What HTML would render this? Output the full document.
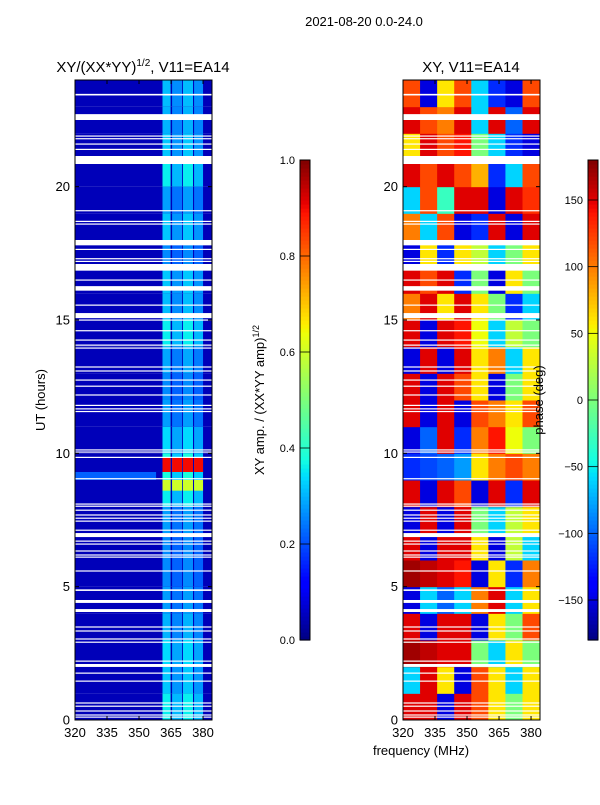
<!DOCTYPE html>
<html><head><meta charset="utf-8"><style>
body{margin:0;background:#fff;font-family:"Liberation Sans",sans-serif;}
svg text{font-family:"Liberation Sans","DejaVu Sans",sans-serif;fill:#000;}
</style></head><body>
<svg id="fig" width="600" height="800" xmlns="http://www.w3.org/2000/svg">
<rect width="600" height="800" fill="#fff"/>
<text x="364" y="26" font-size="13" text-anchor="middle">2021-08-20 0.0-24.0</text>
<text x="143" y="72" font-size="15" text-anchor="middle">XY/(XX*YY)<tspan font-size="10" dy="-6">1/2</tspan><tspan dy="6">, V11=EA14</tspan></text>
<text x="471" y="72" font-size="15" text-anchor="middle">XY, V11=EA14</text>
<g id="amp"></g>
<g id="pha"></g>
<g id="axes"></g>
<text x="45" y="400" font-size="13" text-anchor="middle" transform="rotate(-90 45 400)">UT (hours)</text>
<text x="421" y="755" font-size="13" text-anchor="middle">frequency (MHz)</text>
<text x="264" y="400" font-size="13" text-anchor="middle" transform="rotate(-90 264 400)">XY amp. / (XX*YY amp)<tspan font-size="9" dy="-5">1/2</tspan></text>
<text x="543" y="400" font-size="13" text-anchor="middle" transform="rotate(-90 543 400)">phase (deg)</text>
</svg>
<script>
// ---- data ----
const hours = [0,1,2,3,4,5,6,7,8,9,10,11,12,13,14,15,16,17,18,19,20,21,22,23];
const bandFreqStart = [361, 365.5, 370.6, 375.8];
const bandFreqEnd = [364.8, 370.2, 375.3, 380];
const bandScale = [1.0, 0.85, 1.0, 0.85];
const backgroundAmp = 0.05;
const bandAmp = [0.36,0.32,0.34,0.30,0.28,0.26,0.26,0.28,0.36,0.38,0.34,0.28,0.26,0.29,0.36,0.31,0.32,0.26,0.32,0.28,0.36,0.32,0.30,0.31];
const flareStart = [9.3, 8.6];
const flareEnd = [9.85, 9.0];
const flareAmp = [0.9, 0.6];
const stripeStart = [9.0];
const stripeEnd = [9.3];
const stripeAmp = [0.22];
const gapStart = [23.42,22.5,21.88,21.78,21.58,21.38,20.85,19.08,18.68,18.58,17.8,17.63,17.28,17.18,16.85,16.48,16.1,15.54,15.07,14.98,14.58,14.23,14.04,13.93,13.22,13.07,12.73,12.5,12.17,11.78,11.65,11.55,10.11,10.03,9.83,9.03,8.08,8.0,7.85,7.67,7.55,7.44,7.1,6.86,6.69,6.58,6.32,6.17,6.09,5.57,4.84,4.39,4.05,3.47,3.32,3.02,2.9,2.19,1.99,1.74,1.44,0.62,0.5,0.32,0.17,0.09];
const gapEnd   = [23.48,22.72,21.92,21.82,21.62,21.42,21.15,19.12,18.72,18.62,18.0,17.67,17.32,17.22,17.1,16.52,16.27,15.58,15.26,15.02,14.62,14.27,14.08,13.97,13.26,13.11,12.77,12.54,12.21,11.82,11.69,11.59,10.15,10.07,9.87,9.07,8.12,8.04,7.89,7.71,7.59,7.48,7.14,7.01,6.73,6.62,6.36,6.21,6.13,5.61,4.9,4.5,4.16,3.51,3.36,3.06,2.94,2.23,2.1,1.78,1.48,0.66,0.54,0.36,0.21,0.13];
const phaseFreq = [320,328,336,344,352,360,368,376];
const phase = [
 [150,150,-150,150,120,60,0,60],
 [-60,150,60,-150,120,60,-60,60],
 [170,160,150,150,0,-60,60,0],
 [150,-150,150,150,-150,60,0,120],
 [-150,-60,-100,-60,100,150,-60,60],
 [170,160,150,140,-150,60,-120,100],
 [150,-150,150,150,60,-150,30,-60],
 [-150,150,-150,150,0,-60,30,60],
 [150,-150,150,120,-150,150,-120,150],
 [-120,-110,-100,-80,60,100,120,100],
 [-150,-100,150,-120,100,140,50,0],
 [150,-150,150,-150,120,100,60,120],
 [150,-150,150,120,60,-150,0,60],
 [-150,150,-150,150,60,100,-60,60],
 [150,-150,150,140,50,-60,30,0],
 [100,150,60,150,60,0,-120,-60],
 [150,120,150,-120,0,-150,60,0],
 [-150,60,-120,60,30,-60,0,60],
 [100,-60,120,-150,-120,150,-150,150],
 [-60,120,-30,150,150,-150,150,130],
 [150,120,150,120,80,-120,-60,120],
 [60,150,120,140,0,-60,-120,-150],
 [150,120,100,150,-60,150,-100,150],
 [120,-150,60,120,-60,-120,-150,120]];
const yTicks = [0,5,10,15,20];
const xTicks = [320,335,350,365,380];
const ampTicks = [0.0,0.2,0.4,0.6,0.8,1.0];
const phaseTicks = [-150,-100,-50,0,50,100,150];

// ---- helpers ----
const NS="http://www.w3.org/2000/svg";
function interp(v,pts){for(let i=1;i<pts.length;i++){if(v<=pts[i][0]){const a=pts[i-1],b=pts[i];return a[1]+(b[1]-a[1])*(v-a[0])/(b[0]-a[0]);}}return pts[pts.length-1][1];}
function jet(v){v=Math.max(0,Math.min(1,v));
 const r=interp(v,[[0,0],[0.35,0],[0.66,1],[0.89,1],[1,0.5]]);
 const g=interp(v,[[0,0],[0.125,0],[0.375,1],[0.64,1],[0.91,0],[1,0]]);
 const b=interp(v,[[0,0.5],[0.11,1],[0.34,1],[0.65,0],[1,0]]);
 return `rgb(${Math.round(r*255)},${Math.round(g*255)},${Math.round(b*255)})`;}
function mk(tag,attrs,parent){const e=document.createElementNS(NS,tag);for(const k in attrs)e.setAttribute(k,attrs[k]);parent.appendChild(e);return e;}
const T=80,B=720;
const yS=h=>B-(h/24)*(B-T);
const panels=[{x0:75,x1:212},{x0:403,x1:540}];
const xS=(p,f)=>p.x0+(f-320)*(p.x1-p.x0)/64.2;

// amplitude panel
const ampG=document.getElementById('amp'),P0=panels[0];
hours.forEach((h,i)=>{
 const r=mk('rect',{x:P0.x0,y:yS(h+1),width:P0.x1-P0.x0,height:yS(h)-yS(h+1),fill:jet(backgroundAmp)},ampG);
 
 
 bandFreqStart.forEach((fs,j)=>{
  const c=mk('rect',{x:xS(P0,fs),y:yS(h+1),width:xS(P0,bandFreqEnd[j])-xS(P0,fs),height:yS(h)-yS(h+1),fill:jet(bandAmp[i]*bandScale[j])},ampG);
  
  
 });
});
stripeStart.forEach((s,k)=>{
 const e=mk('rect',{x:P0.x0,y:yS(stripeEnd[k]),width:xS(P0,358)-P0.x0,height:yS(s)-yS(stripeEnd[k]),fill:jet(stripeAmp[k])},ampG);
 
 
});
flareStart.forEach((s,k)=>{
 bandFreqStart.forEach((fs,j)=>{
  const e=mk('rect',{x:xS(P0,fs),y:yS(flareEnd[k]),width:xS(P0,bandFreqEnd[j])-xS(P0,fs),height:yS(s)-yS(flareEnd[k]),fill:jet(flareAmp[k])},ampG);
  
  
 });
});
// phase panel
const phG=document.getElementById('pha'),P1=panels[1];
phase.forEach((row,i)=>{
 row.forEach((v,j)=>{
  const f0=phaseFreq[j],f1=j+1<phaseFreq.length?phaseFreq[j+1]:384.2;
  const c=mk('rect',{x:xS(P1,f0),y:yS(hours[i]+1),width:xS(P1,f1)-xS(P1,f0)+0.5,height:yS(hours[i])-yS(hours[i]+1)+0.5,fill:jet((v+180)/360)},phG);
  
  
 });
});
// gaps
[ampG,phG].forEach((g,pi)=>{const p=panels[pi];
 gapStart.forEach((s,k)=>{
  const e=mk('rect',{x:p.x0,y:yS(gapEnd[k]),width:p.x1-p.x0,height:Math.max(1.2,yS(s)-yS(gapEnd[k])),fill:'#fff'},g);
  
  
 });
});
// axes
const ax=document.getElementById('axes');
panels.forEach((p,pi)=>{
 const fr=mk('rect',{x:p.x0,y:T,width:p.x1-p.x0,height:B-T,fill:'none',stroke:'#000','stroke-width':1},ax);
 
 
 yTicks.forEach(v=>{const y=yS(v);
  mk('line',{x1:p.x0,x2:p.x0+4,y1:y,y2:y,stroke:'#000'},ax);
  mk('line',{x1:p.x1,x2:p.x1-4,y1:y,y2:y,stroke:'#000'},ax);
  const t=mk('text',{x:p.x0-5,y:y+4.5,'font-size':13,'text-anchor':'end'},ax);t.textContent=v;
  
  
 });
 xTicks.forEach(v=>{const x=xS(p,v);
  mk('line',{x1:x,x2:x,y1:B,y2:B-4,stroke:'#000'},ax);
  mk('line',{x1:x,x2:x,y1:T,y2:T+4,stroke:'#000'},ax);
  const t=mk('text',{x:x,y:B+17,'font-size':13,'text-anchor':'middle'},ax);t.textContent=v;
  
  
 });
});
// colorbars
function colorbar(x,lo,hi,ticks,name,fmt){
 const top=160,bot=640,n=120;
 for(let i=0;i<n;i++){const y0=bot-(i+1)*(bot-top)/n;
  const r=mk('rect',{x:x,y:y0,width:10,height:(bot-top)/n+0.6,fill:jet((i+0.5)/n)},ax);
  
  }
 const f=mk('rect',{x:x,y:top,width:10,height:bot-top,fill:'none',stroke:'#000'},ax);
 
 
 ticks.forEach(v=>{const y=bot-(v-lo)/(hi-lo)*(bot-top);
  mk('line',{x1:x,x2:x+10,y1:y,y2:y,stroke:'#000','stroke-width':0.8},ax);
  const t=mk('text',{x:x-5,y:y+4,'font-size':11,'text-anchor':'end'},ax);t.textContent=fmt(v);
  
  
 });
}
colorbar(300,0,1,ampTicks,'amp-colorbar',v=>v.toFixed(1));
colorbar(588,-180,180,phaseTicks,'phase-colorbar',v=>v<0?'\u2212'+(-v):String(v));
</script>
</body></html>
